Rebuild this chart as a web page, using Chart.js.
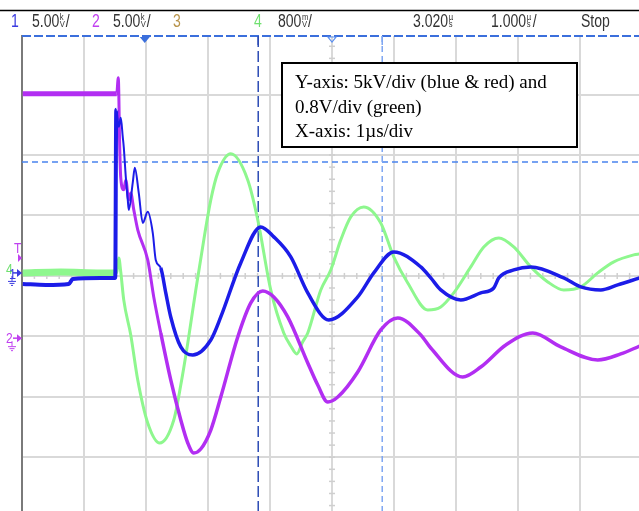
<!DOCTYPE html>
<html lang="en">
<head>
<meta charset="UTF-8">
<title>Scope capture</title>
<script src="https://cdn.jsdelivr.net/npm/chart.js"></script>
<style>
  html, body { margin: 0; padding: 0; background: #fff; overflow: hidden; }
  canvas { display: block; }
</style>
</head>
<body>
<canvas id="scope" width="639" height="511"></canvas>
<script>
// time in µs after the trigger, values in screen divisions
// (ch1 / ch2: 5 kV/div, ch4: 0.8 V/div)
const ch1Time = [-1.968, -1.597, -1.226, -1.161, -0.710, -0.476, -0.460, -0.419, -0.387, -0.355, -0.339, -0.306, -0.274, -0.258, -0.194, -0.161, -0.097, -0.032, 0.048, 0.129, 0.177, 0.258, 0.339, 0.419, 0.581, 0.774, 1.065, 1.226, 1.548, 1.871, 2.081, 2.355, 2.629, 2.968, 3.435, 3.694, 4.016, 4.452, 4.613, 4.774, 5.097, 5.419, 5.629, 5.710, 5.952, 6.226, 6.758, 7.032, 7.355, 7.629, 7.984];
const ch1Div = [-0.132, -0.149, -0.132, -0.050, -0.033, -0.033, 2.748, 2.467, 2.616, 2.301, 2.136, 1.639, 1.258, 1.093, 1.540, 1.788, 1.374, 0.877, 1.060, 0.712, 0.265, 0.132, -0.281, -0.679, -1.175, -1.308, -1.060, -0.679, 0.215, 0.811, 0.646, 0.315, -0.281, -0.728, -0.348, 0.050, 0.397, 0.149, -0.033, -0.232, -0.397, -0.281, -0.199, -0.033, 0.099, 0.149, -0.033, -0.182, -0.232, -0.149, -0.033];

const ch2Time = [-1.968, -1.355, -0.710, -0.452, -0.427, -0.403, -0.387, -0.339, -0.306, -0.258, -0.226, -0.177, -0.113, 0.048, 0.145, 0.258, 0.419, 0.581, 0.694, 0.790, 0.903, 1.065, 1.226, 1.500, 1.710, 1.903, 2.081, 2.306, 2.629, 2.790, 2.952, 3.113, 3.435, 3.806, 4.081, 4.452, 4.613, 5.129, 5.419, 5.823, 6.258, 6.710, 7.306, 7.677, 7.984];
const ch2Div = [3.013, 3.013, 3.013, 3.013, 3.278, 2.086, 1.623, 1.424, 1.589, 1.258, 1.374, 1.093, 0.762, 0.265, -0.348, -0.944, -1.722, -2.384, -2.765, -2.930, -2.864, -2.550, -2.003, -1.010, -0.447, -0.248, -0.348, -0.679, -1.440, -1.805, -2.086, -2.003, -1.589, -0.894, -0.695, -0.977, -1.192, -1.672, -1.507, -1.142, -0.944, -1.175, -1.391, -1.291, -1.159];

const ch4Time = [-1.968, -1.355, -0.710, -0.452, -0.419, -0.387, -0.339, -0.226, -0.113, 0.048, 0.242, 0.468, 0.581, 0.694, 0.823, 0.952, 1.065, 1.177, 1.387, 1.661, 1.823, 2.032, 2.242, 2.355, 2.452, 2.548, 2.629, 2.839, 3.000, 3.161, 3.323, 3.532, 3.806, 4.016, 4.242, 4.565, 4.774, 4.984, 5.258, 5.468, 5.710, 5.952, 6.226, 6.500, 6.758, 7.032, 7.306, 7.565, 7.887, 7.984];
const ch4Div = [0.050, 0.066, 0.050, 0.050, 0.298, 0.066, -0.397, -0.977, -1.722, -2.434, -2.765, -2.384, -1.805, -1.109, -0.232, 0.596, 1.258, 1.705, 2.020, 1.589, 0.927, -0.232, -0.944, -1.159, -1.291, -1.090, -0.944, -0.232, 0.099, 0.596, 0.977, 1.142, 0.877, 0.315, -0.116, -0.563, -0.513, -0.281, 0.149, 0.480, 0.629, 0.480, 0.149, -0.099, -0.232, -0.182, 0.050, 0.232, 0.348, 0.364];

const centerTime = 3.02;          // horizontal delay
const xMin = centerTime - 5;
const xMax = xMin + 617 / 62;     // screen is cut at the right
const yMin = -3.89, yMax = 3.97;
const hCursor = 1.887;
const vCursorA = 1.83, vCursorB = 3.83;

const topLabels = [
  { x: 11, text: '1', color: '#3a3ae0' },
  { x: 32, text: '5.00', unit: ['k', 'V'], slash: true },
  { x: 92, text: '2', color: '#c040f0' },
  { x: 113, text: '5.00', unit: ['k', 'V'], slash: true },
  { x: 173, text: '3', color: '#b8944c' },
  { x: 254, text: '4', color: '#70e070' },
  { x: 278, text: '800', unit: ['m', 'V'], slash: true },
  { x: 413, text: '3.020', unit: ['µ', 's'] },
  { x: 491, text: '1.000', unit: ['µ', 's'], slash: true },
  { x: 581, text: 'Stop' }
];
const noteLines = ['Y-axis: 5kV/div (blue & red) and', '0.8V/div (green)', 'X-axis: 1µs/div'];

const sans = "'Liberation Sans', Arial, sans-serif";

function pts(ts, vs) { return ts.map((t, i) => ({ x: t, y: vs[i] })); }
function seg(pre, post, mid) {
  return ctx => {
    const t = ctx.p0.parsed.x;
    if (t < -0.46) return pre;
    if (mid && t < 0.2) return mid;
    return post;
  };
}

function line(ctx, x1, y1, x2, y2) {
  ctx.beginPath(); ctx.moveTo(x1, y1); ctx.lineTo(x2, y2); ctx.stroke();
}

// narrow scope lettering: squeeze a normal sans horizontally
function narrowText(ctx, s, x, y, size, sx) {
  ctx.save();
  ctx.font = size + 'px ' + sans;
  ctx.translate(x, y);
  ctx.scale(sx, 1);
  ctx.fillText(s, 0, 0);
  const w = ctx.measureText(s).width * sx;
  ctx.restore();
  return w;
}

const scopeDecor = {
  id: 'scopeDecor',
  beforeDatasetsDraw(chart) {
    const { ctx, chartArea: a, scales: { x, y } } = chart;
    ctx.save();
    // centre graticule ticks
    ctx.strokeStyle = '#cfcfcf';
    ctx.lineWidth = 1.5;
    const cx = x.getPixelForValue(centerTime), cy = y.getPixelForValue(0);
    for (let v = -3.8; v < 4; v += 0.2) {
      const py = y.getPixelForValue(v);
      line(ctx, cx - 3, py, cx + 3, py);
    }
    for (let t = xMin + 0.2; t < xMax; t += 0.2) {
      const px = x.getPixelForValue(t);
      line(ctx, px, cy - 3, px, cy + 3);
    }
    // cursors
    ctx.lineWidth = 1.5;
    ctx.setLineDash([6, 4]);
    ctx.strokeStyle = '#4a84ee';
    const hy = y.getPixelForValue(hCursor);
    line(ctx, a.left, hy, a.right, hy);
    ctx.setLineDash([11, 4]);
    ctx.strokeStyle = '#2c4bb4';
    const ax = x.getPixelForValue(vCursorA);
    line(ctx, ax, a.top, ax, a.bottom);
    ctx.setLineDash([6, 4]);
    ctx.strokeStyle = '#7ea6f2';
    const bx = x.getPixelForValue(vCursorB);
    line(ctx, bx, a.top, bx, a.bottom);
    ctx.restore();
  },
  afterDraw(chart) {
    const { ctx, chartArea: a, scales: { x, y } } = chart;
    ctx.save();
    // header
    ctx.fillStyle = '#fff';
    ctx.fillRect(0, 0, chart.width, a.top - 1);
    ctx.strokeStyle = '#000';
    ctx.lineWidth = 1.5;
    line(ctx, 0, 10.5, chart.width, 10.5);
    ctx.textBaseline = 'alphabetic';
    topLabels.forEach(l => {
      ctx.fillStyle = l.color || '#333';
      let px = l.x + narrowText(ctx, l.text, l.x, 27, 18, 0.78) + 0.5;
      if (l.unit) {
        narrowText(ctx, l.unit[0], px, 20, 9, 0.85);
        narrowText(ctx, l.unit[1], px, 27, 9, 0.85);
        px += 6;
      }
      if (l.slash) narrowText(ctx, '/', px, 27, 18, 0.78);
    });
    // top dashed edge and markers
    ctx.strokeStyle = '#3b6fdc';
    ctx.lineWidth = 2;
    ctx.setLineDash([9, 3]);
    line(ctx, a.left, a.top, a.right, a.top);
    ctx.setLineDash([]);
    const tx = x.getPixelForValue(0);
    ctx.fillStyle = '#3b6fdc';
    ctx.beginPath(); ctx.moveTo(tx - 5, a.top + 1); ctx.lineTo(tx + 5, a.top + 1); ctx.lineTo(tx, a.top + 7); ctx.closePath(); ctx.fill();
    const cx = x.getPixelForValue(centerTime);
    ctx.strokeStyle = '#5b8ff0'; ctx.lineWidth = 1.2;
    ctx.beginPath(); ctx.moveTo(cx - 4, a.top + 1); ctx.lineTo(cx + 4, a.top + 1); ctx.lineTo(cx, a.top + 6); ctx.closePath(); ctx.stroke();
    ctx.strokeStyle = '#2c4bb4'; ctx.lineWidth = 1.5;
    const ax = x.getPixelForValue(vCursorA);
    line(ctx, ax, a.top, ax, a.top + 9);
    ctx.strokeStyle = '#7ea6f2';
    const bx = x.getPixelForValue(vCursorB);
    line(ctx, bx, a.top, bx, a.top + 9);

    // channel markers on the left edge
    const lx = a.left;
    function arrow(py, color) {
      ctx.fillStyle = color;
      ctx.beginPath(); ctx.moveTo(lx - 5, py - 4); ctx.lineTo(lx, py); ctx.lineTo(lx - 5, py + 4); ctx.closePath(); ctx.fill();
      ctx.strokeStyle = color; ctx.lineWidth = 1.5;
      line(ctx, lx - 9, py, lx - 4, py);
    }
    function ground(gx, gy, color) {
      ctx.strokeStyle = color; ctx.lineWidth = 1;
      line(ctx, gx, gy - 5, gx, gy);
      line(ctx, gx - 4, gy + 0.5, gx + 4, gy + 0.5);
      line(ctx, gx - 2.5, gy + 2.5, gx + 2.5, gy + 2.5);
      line(ctx, gx - 1, gy + 4.5, gx + 1, gy + 4.5);
    }
    const trigY = y.getPixelForValue(0.33);
    ctx.fillStyle = '#c040f0';
    narrowText(ctx, 'T', 14, trigY - 3, 15, 0.8);
    ctx.beginPath(); ctx.moveTo(lx - 4, trigY - 2); ctx.lineTo(lx, trigY + 2); ctx.lineTo(lx - 4, trigY + 6); ctx.closePath(); ctx.fill();
    const g4 = y.getPixelForValue(0.1);
    ctx.fillStyle = '#70e070';
    narrowText(ctx, '4', 6, g4 + 4, 15, 0.8);
    const g1 = y.getPixelForValue(0.05);
    ctx.fillStyle = '#3a3ae0';
    narrowText(ctx, '1', 9, g1 + 6, 15, 0.85);
    arrow(g1, '#3a3ae0');
    ground(12, g1 + 8, '#3a3ae0');
    const g2 = y.getPixelForValue(-1.03);
    ctx.fillStyle = '#c040f0';
    narrowText(ctx, '2', 6, g2 + 5, 15, 0.8);
    arrow(g2, '#c040f0');
    ground(12, g2 + 8, '#c040f0');

    // annotation box
    ctx.fillStyle = '#fff';
    ctx.fillRect(282, 63, 295, 84);
    ctx.strokeStyle = '#000';
    ctx.lineWidth = 2;
    ctx.strokeRect(282, 63, 295, 84);
    ctx.fillStyle = '#000';
    ctx.font = "19px 'Liberation Serif', 'Times New Roman', serif";
    noteLines.forEach((s, i) => ctx.fillText(s, 295, 88 + i * 24.5));
    ctx.restore();
  }
};

const gridTicks = (lo, n) => Array.from({ length: n }, (_, k) => ({ value: lo + k }));

new Chart(document.getElementById('scope'), {
  type: 'line',
  data: {
    datasets: [
      { label: 'Ch1', data: pts(ch1Time, ch1Div), borderColor: '#1c1ce8', order: 1,
        segment: { borderWidth: seg(4, 3.5, 2) } },
      { label: 'Ch2', data: pts(ch2Time, ch2Div), borderColor: '#b22ef2', order: 2,
        segment: { borderWidth: seg(5, 3.5, 3) } },
      { label: 'Ch4', data: pts(ch4Time, ch4Div), borderColor: '#8ef78e', order: 3,
        segment: { borderWidth: seg(7, 3) } }
    ]
  },
  options: {
    responsive: false,
    animation: false,
    events: [],
    devicePixelRatio: 1,
    layout: { padding: { left: 22, top: 36, right: 0, bottom: 0 } },
    elements: {
      point: { radius: 0 },
      line: { borderWidth: 3, cubicInterpolationMode: 'monotone', borderJoinStyle: 'round', fill: false }
    },
    plugins: { legend: { display: false }, tooltip: { enabled: false } },
    scales: {
      x: {
        type: 'linear', min: xMin, max: xMax,
        afterBuildTicks: s => { s.ticks = gridTicks(xMin, 10); },
        ticks: { display: false },
        grid: { color: '#d9d9d9', lineWidth: 2, drawTicks: false },
        border: { display: false }
      },
      y: {
        type: 'linear', min: yMin, max: yMax,
        afterBuildTicks: s => { s.ticks = gridTicks(-3, 7); },
        ticks: { display: false },
        grid: { color: '#d9d9d9', lineWidth: 2, drawTicks: false },
        border: { display: true, color: '#7a7a7a', width: 2 }
      }
    }
  },
  plugins: [scopeDecor]
});
</script>
</body>
</html>
